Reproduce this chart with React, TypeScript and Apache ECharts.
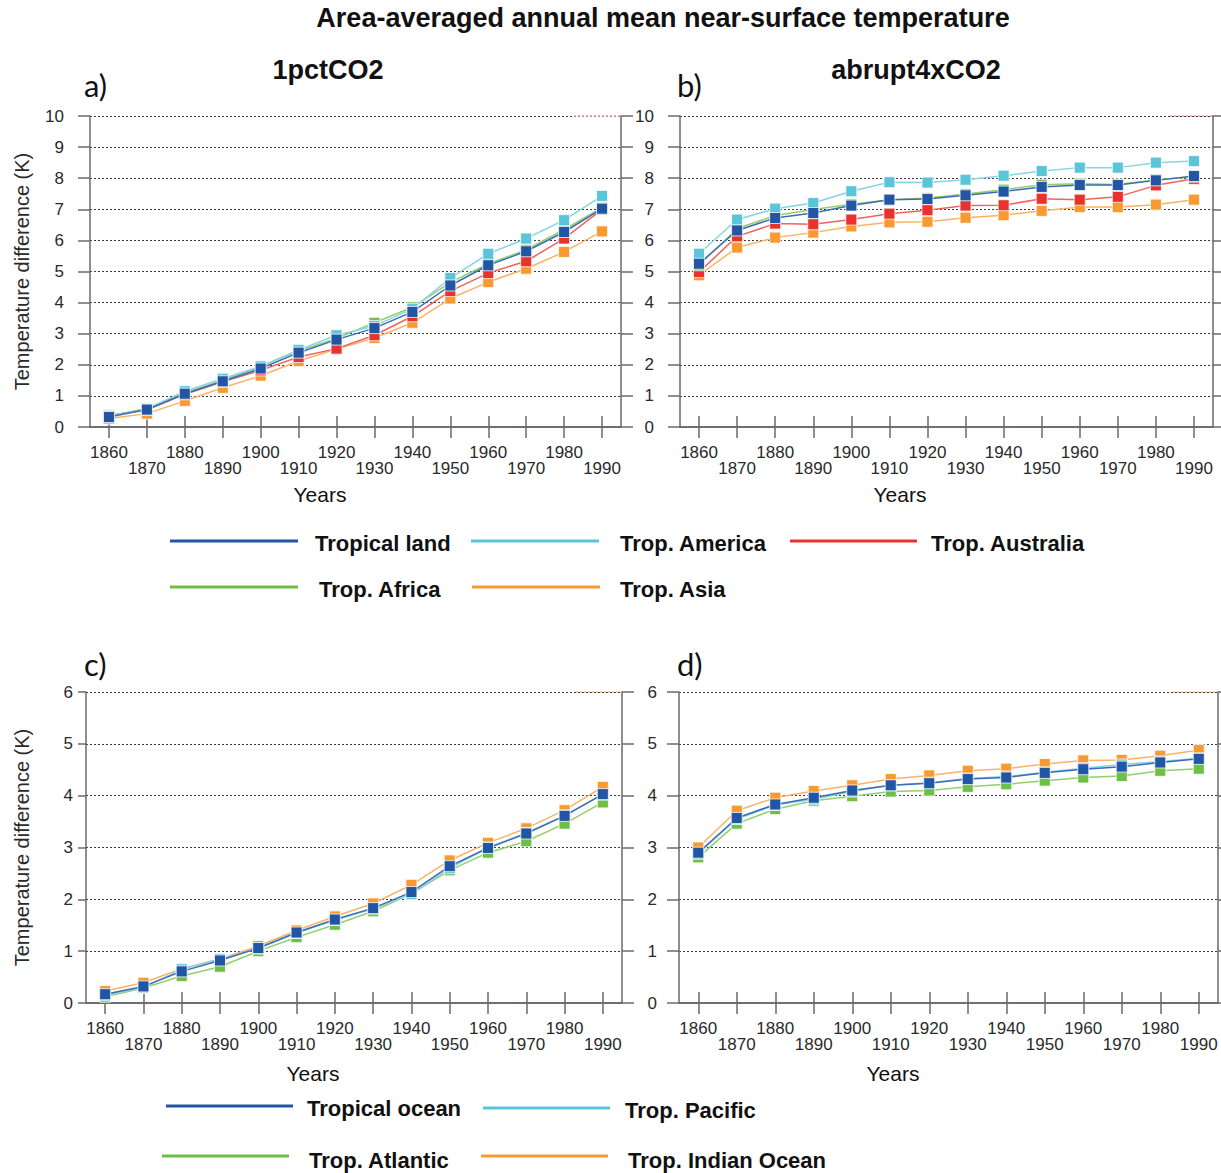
import React, { useEffect, useRef } from "react";
import * as echarts from "echarts";

const years = ["1860", "1870", "1880", "1890", "1900", "1910", "1920", "1930", "1940", "1950", "1960", "1970", "1980", "1990"];

// Panel a) 1pctCO2, land regions
const aLand = [0.32, 0.56, 1.07, 1.47, 1.88, 2.39, 2.81, 3.18, 3.70, 4.55, 5.20, 5.65, 6.27, 7.02];
const aAmerica = [0.35, 0.58, 1.15, 1.55, 1.95, 2.48, 2.95, 3.25, 3.80, 4.79, 5.57, 6.06, 6.65, 7.43];
const aAustralia = [0.38, 0.55, 1.05, 1.45, 1.82, 2.25, 2.52, 2.95, 3.56, 4.37, 4.95, 5.33, 6.06, 7.00];
const aAfrica = [0.35, 0.60, 1.10, 1.50, 1.95, 2.45, 2.85, 3.35, 3.85, 4.65, 5.25, 5.70, 6.35, 7.05];
const aAsia = [0.27, 0.43, 0.84, 1.26, 1.65, 2.12, 2.51, 2.86, 3.35, 4.13, 4.66, 5.09, 5.63, 6.29];

// Panel b) abrupt4xCO2, land regions
const bLand = [5.25, 6.32, 6.72, 6.88, 7.12, 7.31, 7.33, 7.45, 7.57, 7.72, 7.78, 7.78, 7.93, 8.07];
const bAmerica = [5.57, 6.67, 7.02, 7.20, 7.58, 7.87, 7.86, 7.95, 8.08, 8.23, 8.34, 8.34, 8.50, 8.55];
const bAustralia = [4.98, 6.13, 6.54, 6.52, 6.67, 6.86, 6.97, 7.12, 7.13, 7.34, 7.31, 7.40, 7.77, 7.98];
const bAfrica = [5.20, 6.38, 6.80, 6.99, 7.16, 7.31, 7.36, 7.49, 7.63, 7.79, 7.82, 7.80, 7.95, 8.05];
const bAsia = [4.88, 5.77, 6.09, 6.25, 6.45, 6.58, 6.60, 6.73, 6.81, 6.95, 7.07, 7.07, 7.15, 7.31];

// Panel c) 1pctCO2, ocean regions
const cOcean = [0.17, 0.32, 0.61, 0.82, 1.06, 1.36, 1.61, 1.83, 2.14, 2.64, 2.99, 3.27, 3.61, 4.03];
const cPacific = [0.15, 0.30, 0.65, 0.85, 1.05, 1.35, 1.60, 1.82, 2.10, 2.60, 3.00, 3.28, 3.62, 4.02];
const cAtlantic = [0.12, 0.29, 0.52, 0.70, 1.00, 1.27, 1.51, 1.77, 2.11, 2.56, 2.90, 3.12, 3.46, 3.87];
const cIndian = [0.23, 0.39, 0.66, 0.85, 1.10, 1.40, 1.67, 1.92, 2.28, 2.75, 3.09, 3.37, 3.72, 4.17];

// Panel d) abrupt4xCO2, ocean regions
const dOcean = [2.90, 3.57, 3.83, 3.96, 4.10, 4.20, 4.24, 4.32, 4.35, 4.44, 4.51, 4.56, 4.64, 4.71];
const dPacific = [2.88, 3.55, 3.82, 3.93, 4.08, 4.20, 4.25, 4.33, 4.37, 4.45, 4.53, 4.60, 4.66, 4.72];
const dAtlantic = [2.81, 3.46, 3.74, 3.90, 3.99, 4.08, 4.10, 4.17, 4.22, 4.29, 4.35, 4.38, 4.48, 4.52];
const dIndian = [3.00, 3.71, 3.96, 4.09, 4.20, 4.32, 4.39, 4.48, 4.52, 4.61, 4.68, 4.69, 4.77, 4.88];

const C = {
  blue: { m: "#2256a5", l: "#3d6cb5" },
  cyan: { m: "#5ac5d8", l: "#86d5e2" },
  red: { m: "#e9322e", l: "#ef6360" },
  green: { m: "#6dbf46", l: "#92cf70" },
  orange: { m: "#f89a30", l: "#f9b366" },
};

const FONT = "'Liberation Sans', Arial, Helvetica, sans-serif";
const AXIS_COLOR = "#6a6a6a";
const LABEL_COLOR = "#2a2a2a";

const grids = [
  { left: 90, top: 116, width: 531, height: 311 },
  { left: 680, top: 116, width: 533, height: 311 },
  { left: 86, top: 692, width: 536, height: 311 },
  { left: 679, top: 692, width: 539, height: 311 },
];
const yMax = [10, 10, 6, 6];
const yLabelMargin = [26, 26, 13, 22];

function App() {
  const ref = useRef<HTMLDivElement>(null);
  useEffect(() => {
    if (!ref.current) return;
    const chart = echarts.init(ref.current, null, { renderer: "svg" });

    const mk = (name: string, data: number[], col: { m: string; l: string }, idx: number, z: number) => ({
      type: "line",
      name,
      xAxisIndex: idx,
      yAxisIndex: idx,
      data,
      symbol: "rect",
      symbolSize: 11,
      showSymbol: true,
      z,
      lineStyle: { color: col.l, width: 1.5 },
      itemStyle: { color: col.m, borderColor: "rgba(255,255,255,0.75)", borderWidth: 1 },
      emphasis: { disabled: true },
    });

    const xAxes: any[] = [];
    const yAxes: any[] = [];
    for (let i = 0; i < 4; i++) {
      xAxes.push({
        type: "category",
        gridIndex: i,
        data: years,
        position: "bottom",
        boundaryGap: true,
        axisLine: { show: true, lineStyle: { color: AXIS_COLOR, width: 1.5 } },
        axisTick: { show: true, alignWithLabel: true, length: 11, lineStyle: { color: AXIS_COLOR, width: 1.5 } },
        axisLabel: {
          interval: 0,
          fontSize: 17,
          color: LABEL_COLOR,
          fontFamily: FONT,
          margin: 17,
          lineHeight: 16,
          formatter: (v: string, idx: number) => (idx % 2 === 1 ? "\n" + v : v),
        },
        splitLine: { show: false },
      });
    }
    for (let i = 0; i < 4; i++) {
      xAxes.push({
        type: "category",
        gridIndex: i,
        data: years,
        position: "top",
        boundaryGap: true,
        axisLine: { show: true, lineStyle: { color: AXIS_COLOR, width: 1.5 } },
        axisTick: { show: true, alignWithLabel: true, length: 11, lineStyle: { color: AXIS_COLOR, width: 1.5 } },
        axisLabel: { show: false },
        splitLine: { show: false },
      });
    }
    for (let i = 0; i < 4; i++) {
      yAxes.push({
        type: "value",
        gridIndex: i,
        position: "left",
        min: 0,
        max: yMax[i],
        interval: 1,
        axisLine: { show: true, lineStyle: { color: AXIS_COLOR, width: 1.5 } },
        axisTick: { show: true, length: i === 2 ? 8 : 12, lineStyle: { color: AXIS_COLOR, width: 1.5 } },
        axisLabel: { fontSize: 17, color: LABEL_COLOR, fontFamily: FONT, margin: yLabelMargin[i] },
        splitLine: { show: true, lineStyle: { color: "#3a3a3a", width: 1, type: [2, 2] } },
        name: i % 2 === 0 ? "Temperature difference (K)" : "",
        nameLocation: "middle",
        nameGap: i === 0 ? 58 : 54,
        nameTextStyle: { fontSize: 20, color: LABEL_COLOR, fontFamily: FONT },
      });
    }
    for (let i = 0; i < 4; i++) {
      yAxes.push({
        type: "value",
        gridIndex: i,
        position: "right",
        min: 0,
        max: yMax[i],
        interval: 1,
        axisLine: { show: true, lineStyle: { color: AXIS_COLOR, width: 1.5 } },
        axisTick: { show: true, length: 12, lineStyle: { color: AXIS_COLOR, width: 1.5 } },
        axisLabel: { show: false },
        splitLine: { show: false },
      });
    }

    const series = [
      mk("Trop. Asia", aAsia, C.orange, 0, 2),
      mk("Trop. Australia", aAustralia, C.red, 0, 3),
      mk("Trop. Africa", aAfrica, C.green, 0, 4),
      mk("Trop. America", aAmerica, C.cyan, 0, 5),
      mk("Tropical land", aLand, C.blue, 0, 6),
      mk("Trop. Asia", bAsia, C.orange, 1, 2),
      mk("Trop. Australia", bAustralia, C.red, 1, 3),
      mk("Trop. Africa", bAfrica, C.green, 1, 4),
      mk("Trop. America", bAmerica, C.cyan, 1, 5),
      mk("Tropical land", bLand, C.blue, 1, 6),
      mk("Trop. Atlantic", cAtlantic, C.green, 2, 2),
      mk("Trop. Indian Ocean", cIndian, C.orange, 2, 3),
      mk("Trop. Pacific", cPacific, C.cyan, 2, 4),
      mk("Tropical ocean", cOcean, C.blue, 2, 6),
      mk("Trop. Atlantic", dAtlantic, C.green, 3, 2),
      mk("Trop. Indian Ocean", dIndian, C.orange, 3, 3),
      mk("Trop. Pacific", dPacific, C.cyan, 3, 4),
      mk("Tropical ocean", dOcean, C.blue, 3, 6),
    ];

    const txt = (x: number, y: number, text: string, size: number, weight: string, align = "left", family = FONT) => ({
      type: "text",
      x,
      y,
      style: { text, fontSize: size, fontWeight: weight, fontFamily: family, fill: "#111", textAlign: align, textVerticalAlign: "middle" },
    });
    const lg = (x1: number, x2: number, y: number, color: string) => ({
      type: "line",
      shape: { x1, y1: y, x2, y2: y },
      style: { stroke: color, lineWidth: 3 },
    });
    const dots = (x1: number, x2: number, y: number, color: string) => ({
      type: "line",
      shape: { x1, y1: y, x2, y2: y },
      style: { stroke: color, lineWidth: 1.5, lineDash: [2, 2] },
      z: 10,
    });
    const letterFont = "Lato, 'Open Sans', sans-serif";

    const graphic = [
      txt(663, 18, "Area-averaged annual mean near-surface temperature", 27, "bold", "center"),
      txt(328, 70, "1pctCO2", 27, "bold", "center"),
      txt(916, 70, "abrupt4xCO2", 27, "bold", "center"),
      txt(84, 85, "a)", 31, "normal", "left", letterFont),
      txt(677, 85, "b)", 31, "normal", "left", letterFont),
      txt(84, 664, "c)", 31, "normal", "left", letterFont),
      txt(677, 664, "d)", 31, "normal", "left", letterFont),
      txt(320, 494, "Years", 21, "normal", "center"),
      txt(900, 494, "Years", 21, "normal", "center"),
      txt(313, 1073, "Years", 21, "normal", "center"),
      txt(893, 1073, "Years", 21, "normal", "center"),
      dots(574, 620, 116, "#f39a9a"),
      dots(1170, 1212, 116, "#f39a9a"),
      dots(576, 621, 692, "#f9bf80"),
      dots(1173, 1217, 692, "#f9bf80"),
      // legend 1
      lg(170, 298, 541, C.blue.m),
      txt(315, 543, "Tropical land", 22, "bold"),
      lg(471, 599, 541, C.cyan.m),
      txt(620, 543, "Trop. America", 22, "bold"),
      lg(790, 917, 541, C.red.m),
      txt(931, 543, "Trop. Australia", 22, "bold"),
      lg(170, 298, 587, C.green.m),
      txt(319, 589, "Trop. Africa", 22, "bold"),
      lg(472, 600, 587, C.orange.m),
      txt(620, 589, "Trop. Asia", 22, "bold"),
      // legend 2
      lg(166, 293, 1106, C.blue.m),
      txt(307, 1108, "Tropical ocean", 22, "bold"),
      lg(483, 610, 1108, C.cyan.m),
      txt(625, 1110, "Trop. Pacific", 22, "bold"),
      lg(162, 289, 1156, C.green.m),
      txt(309, 1160, "Trop. Atlantic", 22, "bold"),
      lg(481, 608, 1156, C.orange.m),
      txt(628, 1160, "Trop. Indian Ocean", 22, "bold"),
    ];

    chart.setOption({
      animation: false,
      backgroundColor: "#ffffff",
      grid: grids.map((g) => ({ ...g, containLabel: false })),
      xAxis: xAxes,
      yAxis: yAxes,
      series,
      graphic,
    });
    return () => chart.dispose();
  }, []);
  return <div ref={ref} style={{ position: "absolute", left: 0, top: 0, width: 1221, height: 1173 }} />;
}

export default App;
